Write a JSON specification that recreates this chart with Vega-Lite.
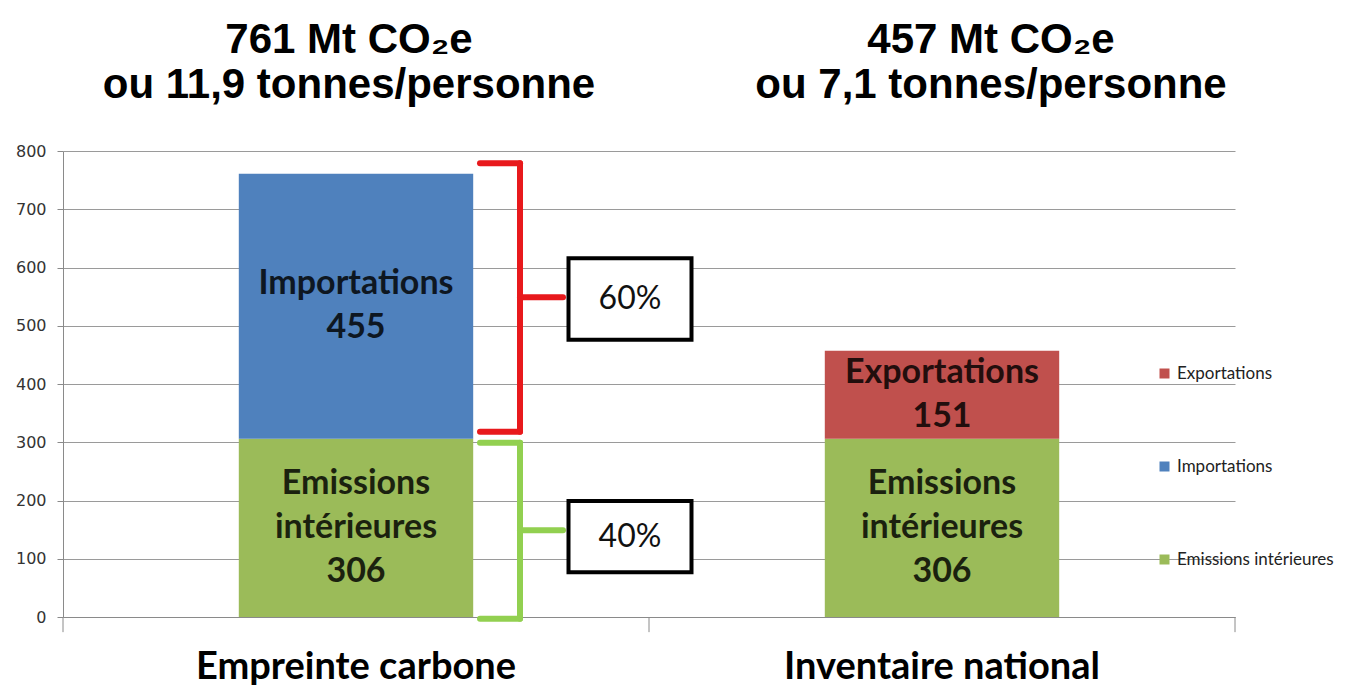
{
  "$schema": "https://vega.github.io/schema/vega-lite/v6.json",
  "width": 1172,
  "height": 466,
  "autosize": {"type": "none"},
  "padding": {"left": 63, "top": 151, "right": 119, "bottom": 69},
  "background": "white",
  "config": {"view": {"stroke": null}, "font": "Lato"},
  "datasets": {
    "bars": [
      {"cat": "Empreinte carbone", "comp": "Emissions intérieures", "label": "Emissions\nintérieures\n306", "value": 306, "ord": 1},
      {"cat": "Empreinte carbone", "comp": "Importations", "label": "Importations\n455", "value": 455, "ord": 2},
      {"cat": "Inventaire national", "comp": "Emissions intérieures", "label": "Emissions\nintérieures\n306", "value": 306, "ord": 1},
      {"cat": "Inventaire national", "comp": "Exportations", "label": "Exportations\n151", "value": 151, "ord": 2}
    ],
    "totals": [
      {"cat": "Empreinte carbone", "title": "761 Mt CO₂e\nou 11,9 tonnes/personne", "total": 761},
      {"cat": "Inventaire national", "title": "457 Mt CO₂e\nou 7,1 tonnes/personne", "total": 457}
    ],
    "braces": [
      {"cat": "Empreinte carbone", "part": "imp", "top": 779, "bottom": 318, "mid": 549, "pct": "60%", "boxTop": 616, "boxBottom": 476, "boxMid": 546},
      {"cat": "Empreinte carbone", "part": "emi", "top": 299, "bottom": -3, "mid": 149, "pct": "40%", "boxTop": 199, "boxBottom": 77, "boxMid": 138}
    ]
  },
  "encoding": {
    "x": {
      "field": "cat", "type": "nominal", "sort": ["Empreinte carbone", "Inventaire national"],
      "scale": {"paddingInner": 0.6, "paddingOuter": 0.3},
      "axis": {"title": null, "labelAngle": 0, "labelFont": "Lato", "labelFontSize": 38, "labelFontWeight": "bold", "labelColor": "#000", "labelLimit": 0, "ticks": false, "domainColor": "#8a8a8a", "domainWidth": 1, "labelPadding": 31}
    }
  },
  "layer": [
    {
      "data": {"name": "bars"},
      "mark": {"type": "bar"},
      "encoding": {
        "y": {
          "field": "value", "type": "quantitative", "stack": "zero",
          "scale": {"domain": [0, 800]},
          "axis": {"title": null, "values": [0, 100, 200, 300, 400, 500, 600, 700, 800], "grid": true, "gridColor": "#9a9a9a", "gridWidth": 1, "domainColor": "#8a8a8a", "tickColor": "#8a8a8a", "tickSize": 6, "labelFont": "DejaVu Sans", "labelFontSize": 16, "labelColor": "#333", "labelPadding": 11}
        },
        "color": {
          "field": "comp", "type": "nominal",
          "scale": {"domain": ["Exportations", "Importations", "Emissions intérieures"], "range": ["#C0504D", "#4F81BD", "#9BBB59"]},
          "legend": {"title": null, "orient": "none", "legendX": 1093, "legendY": 214, "symbolType": "square", "symbolSize": 100, "symbolStrokeWidth": 0, "labelFont": "Lato", "labelFontSize": 17, "labelColor": "#222", "rowPadding": 75, "labelOffset": 4}
        },
        "order": {"field": "ord", "type": "quantitative"}
      }
    },
    {
      "data": {"name": "bars"},
      "transform": [
        {"stack": "value", "groupby": ["cat"], "sort": [{"field": "ord", "order": "ascending"}], "as": ["v0", "v1"]},
        {"calculate": "(datum.v0 + datum.v1) / 2", "as": "mid"},
        {"filter": "datum.comp !== 'Emissions intérieures'"}
      ],
      "mark": {"type": "text", "font": "Lato", "fontSize": 34, "fontWeight": "bold", "lineBreak": "\n", "lineHeight": 44, "baseline": "middle", "dy": -22, "fill": "#000", "opacity": 0.82},
      "encoding": {
        "y": {"field": "mid", "type": "quantitative"},
        "text": {"field": "label"}
      }
    },
    {
      "data": {"name": "bars"},
      "transform": [
        {"stack": "value", "groupby": ["cat"], "sort": [{"field": "ord", "order": "ascending"}], "as": ["v0", "v1"]},
        {"calculate": "(datum.v0 + datum.v1) / 2", "as": "mid"},
        {"filter": "datum.comp === 'Emissions intérieures'"}
      ],
      "mark": {"type": "text", "font": "Lato", "fontSize": 34, "fontWeight": "bold", "lineBreak": "\n", "lineHeight": 44, "baseline": "middle", "dy": -44, "fill": "#000", "opacity": 0.82},
      "encoding": {
        "y": {"field": "mid", "type": "quantitative"},
        "text": {"field": "label"}
      }
    },
    {
      "data": {"name": "totals"},
      "transform": [{"filter": "datum.cat === 'Empreinte carbone'"}],
      "mark": {"type": "text", "font": "Liberation Sans", "fontSize": 42, "fontWeight": "bold", "lineBreak": "\n", "lineHeight": 45, "baseline": "alphabetic", "dy": -98, "dx": -7, "fill": "#000"},
      "encoding": {"y": {"datum": 800, "type": "quantitative"}, "text": {"field": "title"}}
    },
    {
      "data": {"name": "totals"},
      "transform": [{"filter": "datum.cat === 'Inventaire national'"}],
      "mark": {"type": "text", "font": "Liberation Sans", "fontSize": 42, "fontWeight": "bold", "lineBreak": "\n", "lineHeight": 45, "baseline": "alphabetic", "dy": -98, "dx": 49, "fill": "#000"},
      "encoding": {"y": {"datum": 800, "type": "quantitative"}, "text": {"field": "title"}}
    },
    {
      "data": {"name": "totals"},
      "mark": {"type": "rule", "xOffset": -293, "color": "#8a8a8a", "strokeWidth": 1},
      "encoding": {"y": {"datum": 0, "type": "quantitative"}, "y2": {"datum": -26}}
    },
    {
      "data": {"name": "totals"},
      "transform": [{"filter": "datum.cat === 'Inventaire national'"}],
      "mark": {"type": "rule", "xOffset": 293, "color": "#8a8a8a", "strokeWidth": 1},
      "encoding": {"y": {"datum": 0, "type": "quantitative"}, "y2": {"datum": -26}}
    },
    {
      "data": {"name": "braces"},
      "mark": {"type": "rule", "xOffset": 164, "strokeWidth": 6, "strokeCap": "round"},
      "encoding": {
        "y": {"field": "bottom", "type": "quantitative"}, "y2": {"field": "top"},
        "stroke": {"field": "part", "type": "nominal", "scale": {"domain": ["imp", "emi"], "range": ["#E8191C", "#92D050"]}, "legend": null}
      }
    },
    {
      "data": {"name": "braces"},
      "mark": {"type": "rule", "xOffset": 124, "x2Offset": 164, "strokeWidth": 6, "strokeCap": "round"},
      "encoding": {
        "x2": {"field": "cat"},
        "y": {"field": "top", "type": "quantitative"},
        "stroke": {"field": "part", "type": "nominal", "legend": null}
      }
    },
    {
      "data": {"name": "braces"},
      "mark": {"type": "rule", "xOffset": 124, "x2Offset": 164, "strokeWidth": 6, "strokeCap": "round"},
      "encoding": {
        "x2": {"field": "cat"},
        "y": {"field": "bottom", "type": "quantitative"},
        "stroke": {"field": "part", "type": "nominal", "legend": null}
      }
    },
    {
      "data": {"name": "braces"},
      "mark": {"type": "rule", "xOffset": 164, "x2Offset": 207, "strokeWidth": 6, "strokeCap": "round"},
      "encoding": {
        "x2": {"field": "cat"},
        "y": {"field": "mid", "type": "quantitative"},
        "stroke": {"field": "part", "type": "nominal", "legend": null}
      }
    },
    {
      "data": {"name": "braces"},
      "mark": {"type": "bar", "width": 123, "xOffset": 274, "fill": "white", "stroke": "black", "strokeWidth": 4},
      "encoding": {
        "y": {"field": "boxBottom", "type": "quantitative"}, "y2": {"field": "boxTop"}
      }
    },
    {
      "data": {"name": "braces"},
      "mark": {"type": "text", "font": "Lato", "fontSize": 32, "baseline": "middle", "dx": 274, "fill": "#111"},
      "encoding": {
        "y": {"field": "boxMid", "type": "quantitative"},
        "text": {"field": "pct"}
      }
    }
  ]
}
